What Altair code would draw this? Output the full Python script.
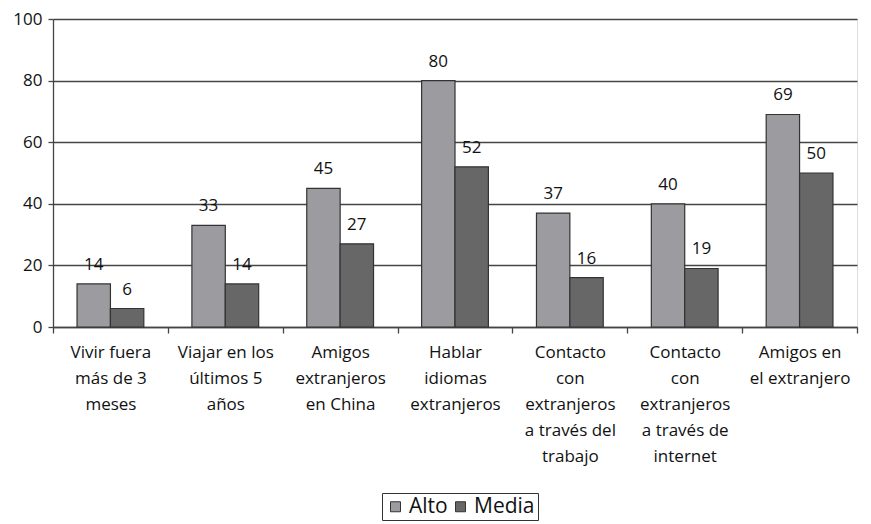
import altair as alt
import pandas as pd

categories = [
    "Vivir fuera|más de 3|meses",
    "Viajar en los|últimos 5|años",
    "Amigos|extranjeros|en China",
    "Hablar|idiomas|extranjeros",
    "Contacto|con|extranjeros|a través del|trabajo",
    "Contacto|con|extranjeros|a través de|internet",
    "Amigos en|el extranjero",
]
series = ["Alto", "Media"]
alto = [14, 33, 45, 80, 37, 40, 69]
media = [6, 14, 27, 52, 16, 19, 50]
colors = ["#9c9ca0", "#676767"]

rows = []
for c, a, m in zip(categories, alto, media):
    rows.append({"cat": c, "serie": "Alto", "valor": a})
    rows.append({"cat": c, "serie": "Media", "valor": m})
df = pd.DataFrame(rows)

FONT = "Open Sans"

x = alt.X(
    "cat:N",
    sort=categories,
    scale=alt.Scale(paddingInner=0, paddingOuter=0),
    axis=alt.Axis(
        title=None,
        labelAngle=0,
        labelExpr="split(datum.label, '|')",
        labelFont=FONT,
        labelFontSize=17,
        labelColor="#111",
        labelLineHeight=26,
        labelBaseline="top",
        labelPadding=11,
        tickBand="extent",
        tickSize=6,
        tickColor="#444",
        tickWidth=1.3,
        domainColor="#444",
        domainWidth=1.3,
        grid=False,
        labelLimit=200,
    ),
)
xoff = alt.XOffset(
    "serie:N",
    sort=series,
    scale=alt.Scale(paddingInner=0, paddingOuter=0.72),
)
y = alt.Y(
    "valor:Q",
    scale=alt.Scale(domain=[0, 100], nice=False),
    axis=alt.Axis(
        title=None,
        values=[0, 20, 40, 60, 80, 100],
        labelFont=FONT,
        labelFontSize=17,
        labelColor="#111",
        labelPadding=6,
        tickSize=5,
        tickColor="#444",
        tickWidth=1.3,
        domainColor="#444",
        domainWidth=1.3,
        gridColor="#444",
        gridWidth=1.3,
    ),
)

bars = alt.Chart(df).mark_bar(stroke="#333", strokeWidth=1.2).encode(
    x=x,
    xOffset=xoff,
    y=y,
    color=alt.Color(
        "serie:N",
        sort=series,
        scale=alt.Scale(domain=series, range=colors),
        legend=alt.Legend(
            title=None,
            orient="none",
            legendX=329,
            legendY=474,
            direction="horizontal",
            symbolType="square",
            symbolSize=100,
            symbolStrokeColor="#333",
            symbolStrokeWidth=1,
            labelFont=FONT,
            labelFontSize=21,
            labelColor="#111",
            labelOffset=3,
            columnPadding=2,
            padding=3,
            strokeColor="#333",
            fillColor="white",
        ),
    ),
)

labels = alt.Chart(df).mark_text(
    font=FONT, fontSize=17, color="#111", baseline="alphabetic", dy=-14
).encode(
    x=x,
    xOffset=xoff,
    y=y,
    text="valor:Q",
)

chart = (
    alt.layer(bars, labels)
    .properties(
        width=804,
        height=308,
        autosize=alt.AutoSizeParams(type="none"),
        padding={"left": 45, "top": 11, "right": 6, "bottom": 197},
    )
    .configure_view(stroke="#444", strokeWidth=1.3)
    .configure(background="white")
)

chart.save("out.html", embed_options={"renderer": "svg", "actions": False})
